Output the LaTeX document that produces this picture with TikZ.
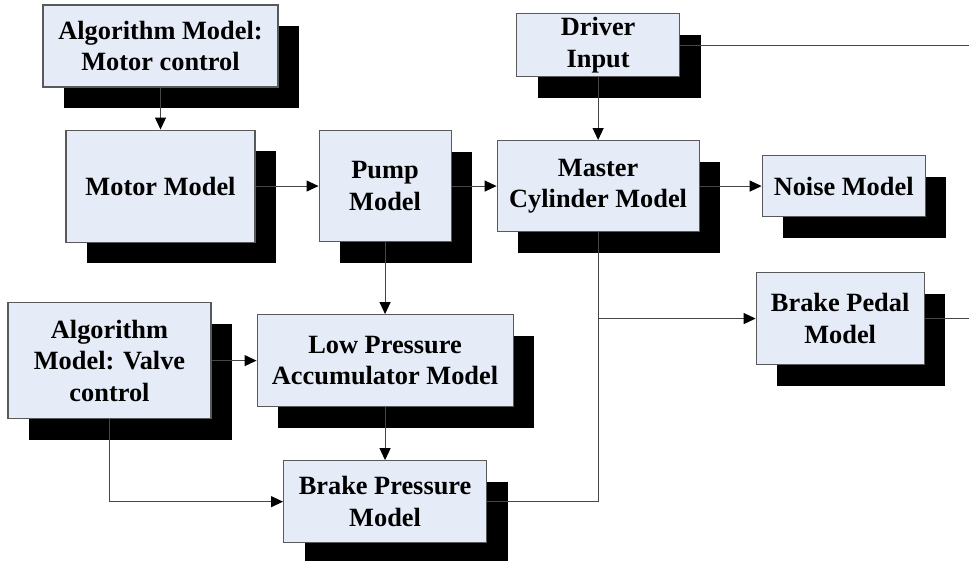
\documentclass[tikz,border=0pt]{standalone}
\usepackage{fontspec}
\setmainfont{Liberation Serif}
\usepackage{tikz}
\usetikzlibrary{arrows.meta, positioning, shadows}
\definecolor{boxblue}{RGB}{230, 236, 247}
\definecolor{linegray}{RGB}{70, 70, 70}
\tikzset{
    box/.style = {rectangle, draw=black!65, fill=boxblue, line width=0.6pt, align=center, inner sep=2pt,
        font=\bfseries\fontsize{15}{18}\selectfont,
        drop shadow={shadow xshift=0.42cm, shadow yshift=-0.42cm, opacity=1, fill=black}},
    arrow/.style = {draw=linegray, line width=0.6pt, -{Triangle[length=2.4mm, width=2.2mm, black]}},
    line/.style = {draw=linegray, line width=0.6pt, -}
}

\begin{document}
\begin{tikzpicture}
\useasboundingbox (0,0) rectangle (19.38,-11.2);
% Nodes
\node (algmotor) [box, minimum width=4.7cm, minimum height=1.64cm] at (3.21,-0.92) {Algorithm Model:\\Motor control};
\node (motor) [box, minimum width=3.78cm, minimum height=2.24cm, below=0.84cm of algmotor] {Motor Model};
\node (pump) [box, minimum width=2.64cm, minimum height=2.22cm, right=1.26cm of motor] {Pump\\Model};
\node (master) [box, minimum width=4.04cm, minimum height=1.82cm, right=0.9cm of pump] {Master\\Cylinder Model};
\node (noise) [box, minimum width=3.26cm, minimum height=1.22cm, right=1.24cm of master] {Noise Model};
\node (driver) [box, minimum width=3.26cm, minimum height=1.24cm, above=1.26cm of master] {Driver\\Input};
\node (lpa) [box, minimum width=5.12cm, minimum height=1.84cm, below=1.44cm of pump] {Low Pressure\\Accumulator Model};
\node (valve) [box, minimum width=4.06cm, minimum height=2.32cm, left=0.9cm of lpa] {Algorithm\\Model: Valve\\control};
\node (brakep) [box, minimum width=4.06cm, minimum height=1.64cm, below=1.06cm of lpa] {Brake Pressure\\Model};
\node (pedal) [box, minimum width=3.36cm, minimum height=1.84cm, right=1.12cm of master, yshift=-2.65cm] {Brake Pedal\\Model};

\coordinate (rightedge) at (19.38,0);
\coordinate (driverend) at (driver -| rightedge);
\coordinate (pedalend) at (pedal -| rightedge);

% Arrows
\draw [arrow] (algmotor) -- (motor);
\draw [arrow] (motor) -- (pump);
\draw [arrow] (pump) -- (master);
\draw [arrow] (master) -- (noise);
\draw [arrow] (driver) -- (master);
\draw [arrow] (pump) -- (lpa);
\draw [arrow] (lpa) -- (brakep);
\draw [arrow] (valve) -- (lpa);
\draw [arrow] (valve) |- (brakep);
\draw [line] (brakep) -| (master);
\draw [arrow] (master |- pedal) -- (pedal);
\draw [line] (driver) -- (driverend);
\draw [line] (pedal) -- (pedalend);

\end{tikzpicture}
\end{document}
